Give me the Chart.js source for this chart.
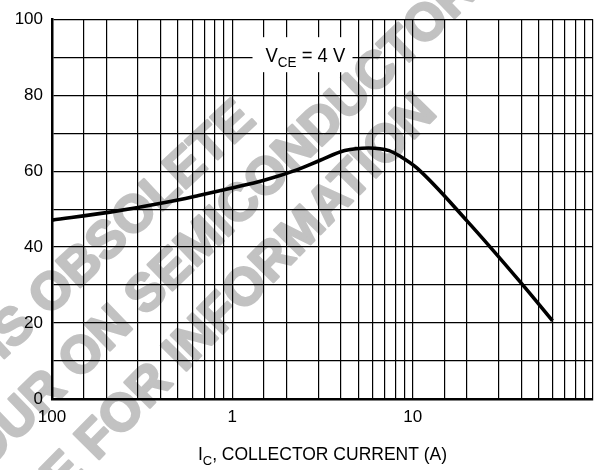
<!DOCTYPE html>
<html><head><meta charset="utf-8">
<script src="https://cdn.jsdelivr.net/npm/chart.js@4.4.1/dist/chart.umd.min.js"></script>
<style>html,body{margin:0;padding:0;background:#fff}canvas{display:block}</style>
</head><body>
<canvas id="c" width="601" height="470"></canvas>
<script>
// ---- data ----
const IC  = [0.1, 0.21, 0.43, 0.65, 0.98, 1.5, 2.3, 3.05, 4.2, 5.7, 7.4, 8.6, 10.5, 20, 40, 59.6];
const HFE = [47.1, 49.2, 51.8, 53.6, 55.5, 57.6, 60.4, 62.8, 65.4, 66.1, 65.4, 63.8, 60.9, 46.9, 30.5, 20.6];
const X_DECADES = [0.1, 1, 10];
const X_DECADE_LABELS = ['100', '1', '10'];
const X_GRID_MULTS = [1, 1.5, 2, 3, 4, 5, 6, 7, 8, 9];
const X_END = 100;
const Y_LABELED = [0, 20, 40, 60, 80, 100];
const X_TITLE = ['I', 'C', ', COLLECTOR CURRENT (A)'];
const NOTE = ['V', 'CE', ' = 4 V'];
const NOTE_AT = [2.45, 90];
const WATERMARK = ['THIS DEVICE IS OBSOLETE', 'PLEASE CONTACT YOUR ON SEMICONDUCTOR', 'REPRESENTATIVE FOR INFORMATION'];
const WM_ANCHORS = ['OBSOLETE', 'ON SEMI', 'FOR INFO'];

// ---- derived ----
const xGridValues = [];
X_DECADES.forEach(d => X_GRID_MULTS.forEach(m => xGridValues.push(Number((d * m).toPrecision(6)))));
xGridValues.push(X_END);

const FONT = '"Liberation Sans", Arial, Helvetica, sans-serif';
const WM_PLACE = [
  {x: 36, y: 304, a: -43},
  {x: 66, y: 368, a: -44},
  {x: 84, y: 449, a: -45.5}
];

const wmPlugin = {
  id: 'wm',
  beforeDraw(chart) {
    const ctx = chart.ctx;
    ctx.save();
    ctx.fillStyle = '#fff';
    ctx.fillRect(0, 0, chart.width, chart.height);
    ctx.fillStyle = '#c2c2c2';
    ctx.strokeStyle = '#c2c2c2';
    ctx.lineWidth = 2.5;
    ctx.lineJoin = 'round';
    ctx.font = 'bold 52px ' + FONT;
    ctx.textBaseline = 'alphabetic';
    ctx.textAlign = 'left';
    WATERMARK.forEach((text, i) => {
      const p = WM_PLACE[i];
      const idx = text.indexOf(WM_ANCHORS[i]);
      const pre = ctx.measureText(text.slice(0, idx)).width;
      ctx.save();
      ctx.translate(p.x, p.y);
      ctx.rotate(p.a * Math.PI / 180);
      ctx.fillText(text, -pre, 18);
      ctx.strokeText(text, -pre, 18);
      ctx.restore();
    });
    ctx.restore();
  }
};

function drawSubText(ctx, parts, x, y, big, small, align, sx) {
  sx = sx || 1;
  ctx.font = big + 'px ' + FONT;
  const w0 = ctx.measureText(parts[0]).width;
  const w2 = ctx.measureText(parts[2]).width;
  ctx.font = small + 'px ' + FONT;
  const w1 = ctx.measureText(parts[1]).width;
  const total = (w0 + w1 + w2) * sx;
  const left = align === 'center' ? x - total / 2 : x;
  ctx.save();
  ctx.translate(left, y);
  ctx.scale(sx, 1);
  ctx.textAlign = 'left';
  ctx.textBaseline = 'alphabetic';
  ctx.font = big + 'px ' + FONT;
  ctx.fillText(parts[0], 0, 0);
  ctx.font = small + 'px ' + FONT;
  ctx.fillText(parts[1], w0, 5);
  ctx.font = big + 'px ' + FONT;
  ctx.fillText(parts[2], w0 + w1, 0);
  ctx.restore();
  return total;
}

const textPlugin = {
  id: 'texts',
  afterDraw(chart) {
    const ctx = chart.ctx;
    const xs = chart.scales.x, ys = chart.scales.y;
    ctx.save();
    // note box
    const cx = xs.getPixelForValue(NOTE_AT[0]);
    const cy = ys.getPixelForValue(NOTE_AT[1]);
    ctx.fillStyle = '#fff';
    ctx.fillRect(cx - 50, cy - 20, 100, 35);
    ctx.fillStyle = '#000';
    drawSubText(ctx, NOTE, cx - 37, cy + 5, 20.5, 15, 'left', 0.9);
    // x title
    const tx = (chart.chartArea.left + chart.chartArea.right) / 2;
    drawSubText(ctx, X_TITLE, tx, 460, 17.5, 13, 'center', 1);
    ctx.restore();
  }
};

new Chart(document.getElementById('c'), {
  type: 'line',
  data: {
    datasets: [{
      data: IC.map((x, i) => ({x: x, y: HFE[i]})),
      borderColor: '#000',
      borderWidth: 3.6,
      pointRadius: 0,
      cubicInterpolationMode: 'monotone',
      fill: false
    }]
  },
  options: {
    responsive: false,
    animation: false,
    devicePixelRatio: 1,
    layout: {padding: {top: 15, right: 1, left: 0, bottom: 0}},
    plugins: {legend: {display: false}, tooltip: {enabled: false}},
    scales: {
      x: {
        type: 'logarithmic',
        min: 0.1,
        max: X_END,
        afterBuildTicks(s) { s.ticks = xGridValues.map(v => ({value: v})); },
        afterFit(s) { s.height = 71; },
        ticks: {
          autoSkip: false, maxRotation: 0, minRotation: 0, padding: 8, color: '#000',
          font: {family: FONT, size: 17},
          callback(v) {
            const k = X_DECADES.findIndex(d => Math.abs(d - v) < 1e-9);
            return k >= 0 ? X_DECADE_LABELS[k] : '';
          }
        },
        grid: {color: '#000', lineWidth: 1.2, drawTicks: false},
        border: {color: '#000', width: 2.5}
      },
      y: {
        min: 0, max: 100,
        afterFit(s) { s.width = 52; },
        ticks: {
          stepSize: 10, padding: 9, color: '#000',
          font: {family: FONT, size: 17},
          callback(v) { return Y_LABELED.includes(v) ? String(v) : ''; }
        },
        grid: {color: '#000', lineWidth: 1.2, drawTicks: false},
        border: {color: '#000', width: 2.5}
      }
    }
  },
  plugins: [wmPlugin, textPlugin]
});
</script>
</body></html>
